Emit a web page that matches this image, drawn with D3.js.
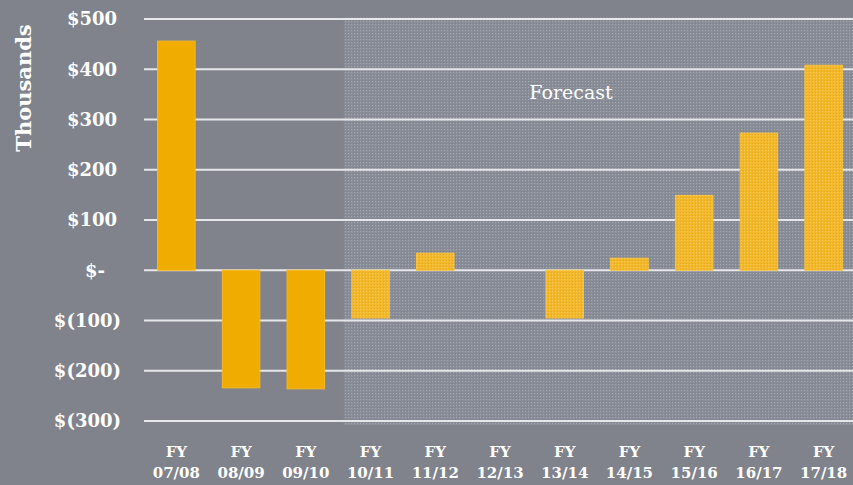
<!DOCTYPE html>
<html>
<head>
<meta charset="utf-8">
<script src="https://cdn.jsdelivr.net/npm/d3@7"></script>
<style>
  html, body { margin: 0; padding: 0; background: #80838b; }
  svg { display: block; }
</style>
</head>
<body>
<div id="vis"></div>
<script>
const width = 853;
const height = 485;

// data (thousands of dollars)
const years = ["07/08", "08/09", "09/10", "10/11", "11/12", "12/13", "13/14", "14/15", "15/16", "16/17", "17/18"];
const values = [456, -234, -236, -95, 34, 0, -95, 24, 149, 273, 408];
const forecastFrom = "10/11";
const yTicks = [500, 400, 300, 200, 100, 0, -100, -200, -300];

const svg = d3.select("#vis")
  .append("svg")
  .attr("width", width)
  .attr("height", height);

const defs = svg.append("defs");
const pat = defs.append("pattern")
  .attr("id", "dots")
  .attr("width", 3)
  .attr("height", 3)
  .attr("patternUnits", "userSpaceOnUse");
pat.append("rect").attr("width", 3).attr("height", 3).attr("fill", "#898d97");
pat.append("rect").attr("width", 1).attr("height", 1).attr("fill", "#a5a8b0");
pat.append("rect").attr("x", 2).attr("y", 2).attr("width", 1).attr("height", 1).attr("fill", "#7d818b");

const overlay = defs.append("pattern")
  .attr("id", "dotsOver")
  .attr("width", 3)
  .attr("height", 3)
  .attr("patternUnits", "userSpaceOnUse");
overlay.append("rect").attr("width", 1).attr("height", 1).attr("fill", "#ffffff").attr("opacity", 0.25);
overlay.append("rect").attr("x", 2).attr("y", 2).attr("width", 1).attr("height", 1).attr("fill", "#b07a00").attr("opacity", 0.2);

svg.append("rect")
  .attr("width", width)
  .attr("height", height)
  .attr("fill", "#80838b");

const x = d3.scaleBand()
  .domain(years)
  .range([144, 856])
  .paddingInner(0.42)
  .paddingOuter(0.21);

const y = d3.scaleLinear()
  .domain([-300, 500])
  .range([421, 19]);

// forecast shaded area
const fx = x(forecastFrom) - 8;
svg.append("rect")
  .attr("x", fx)
  .attr("y", y(500) - 2)
  .attr("width", width - fx)
  .attr("height", y(-300) - y(500) + 6)
  .attr("fill", "url(#dots)");

// gridlines
svg.append("g")
  .selectAll("line")
  .data(yTicks)
  .enter()
  .append("line")
  .attr("x1", 144)
  .attr("x2", width)
  .attr("y1", d => y(d))
  .attr("y2", d => y(d))
  .attr("stroke", "#e6e7ea")
  .attr("stroke-width", 2);

const isForecast = d => years.indexOf(d.year) >= years.indexOf(forecastFrom);
const barData = years.map((yr, i) => ({ year: yr, value: values[i] })).filter(d => d.value !== 0);

svg.append("g")
  .selectAll("rect")
  .data(barData)
  .enter()
  .append("rect")
  .attr("x", d => x(d.year))
  .attr("y", d => y(Math.max(0, d.value)))
  .attr("width", x.bandwidth())
  .attr("height", d => Math.abs(y(d.value) - y(0)))
  .attr("fill", d => isForecast(d) ? "#f3b72a" : "#f0ad00")
  .attr("stroke", d => isForecast(d) ? "#f6c340" : "#f5b820")
  .attr("stroke-width", 1);

svg.append("g")
  .selectAll("rect")
  .data(barData.filter(isForecast))
  .enter()
  .append("rect")
  .attr("x", d => x(d.year))
  .attr("y", d => y(Math.max(0, d.value)))
  .attr("width", x.bandwidth())
  .attr("height", d => Math.abs(y(d.value) - y(0)))
  .attr("fill", "url(#dotsOver)");

// y tick labels
const fmt = d => d === 0 ? "$-" : d < 0 ? `$(${-d})` : `$${d}`;
svg.append("g")
  .selectAll("text")
  .data(yTicks)
  .enter()
  .append("text")
  .attr("x", d => d === 0 ? 105 : d < 0 ? 121 : 117)
  .attr("y", d => y(d))
  .attr("dy", "0.36em")
  .attr("text-anchor", "end")
  .attr("font-family", "DejaVu Serif")
  .attr("font-weight", "bold")
  .attr("font-size", "18px")
  .attr("fill", "#ffffff")
  .text(fmt);

// x labels
const xl = svg.append("g")
  .selectAll("text")
  .data(years)
  .enter()
  .append("text")
  .attr("text-anchor", "middle")
  .attr("font-family", "DejaVu Serif")
  .attr("font-weight", "bold")
  .attr("font-size", "15px")
  .attr("fill", "#ffffff");
xl.append("tspan")
  .attr("x", d => x(d) + x.bandwidth() / 2)
  .attr("y", 457)
  .text("FY");
xl.append("tspan")
  .attr("x", d => x(d) + x.bandwidth() / 2)
  .attr("y", 478)
  .text(d => d);

svg.append("text")
  .attr("transform", "translate(31,88) rotate(-90)")
  .attr("text-anchor", "middle")
  .attr("font-family", "DejaVu Serif")
  .attr("font-weight", "bold")
  .attr("font-size", "21px")
  .attr("fill", "#ffffff")
  .text("Thousands");

svg.append("text")
  .attr("x", 571)
  .attr("y", 99)
  .attr("text-anchor", "middle")
  .attr("font-family", "DejaVu Serif")
  .attr("font-size", "19px")
  .attr("fill", "#ffffff")
  .text("Forecast");
</script>
</body>
</html>
